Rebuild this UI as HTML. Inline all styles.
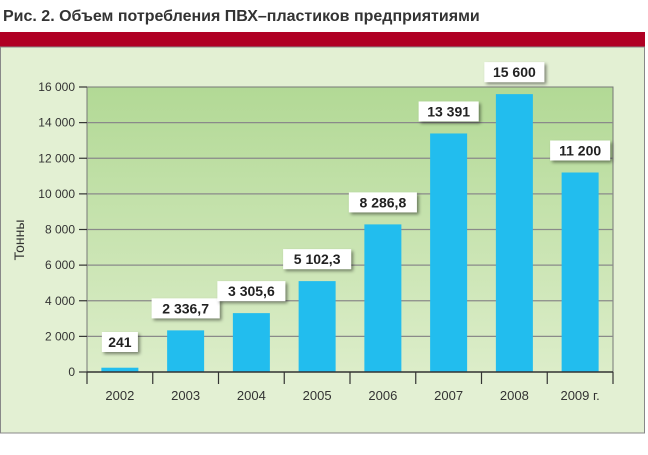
<!DOCTYPE html>
<html><head><meta charset="utf-8"><style>
body{margin:0;background:#fff;width:648px;height:450px;overflow:hidden;font-family:"Liberation Sans",sans-serif}
</style></head><body>
<svg width="648" height="450">
<defs>
<linearGradient id="pg" x1="0" y1="0" x2="0" y2="1"><stop offset="0" stop-color="#b2d995"/><stop offset="1" stop-color="#dcedc9"/></linearGradient>
<filter id="sh" x="-20%" y="-20%" width="150%" height="160%"><feDropShadow dx="2" dy="2" stdDeviation="1.5" flood-color="#000" flood-opacity="0.45"/></filter>
</defs>
<text x="3" y="21" font-size="16" font-weight="bold" fill="#333" font-family="Liberation Sans Narrow, Liberation Sans, sans-serif">Рис. 2. Объем потребления ПВХ–пластиков предприятиями</text>
<rect x="0" y="32" width="645" height="15" fill="#b00024"/>
<rect x="0.5" y="47" width="644" height="386" fill="#e3f0d3" stroke="#888"/>
<rect x="87" y="87" width="526" height="285" fill="url(#pg)" stroke="#777"/>
<g id="grid"></g><g id="bars"></g><g id="labels"></g><g id="axes"></g>
<text transform="translate(24,240) rotate(-90)" text-anchor="middle" font-size="14" fill="#333">Тонны</text>
</svg>
<script>
const categories=["2002","2003","2004","2005","2006","2007","2008","2009 г."];
const values=[241,2336.7,3305.6,5102.3,8286.8,13391,15600,11200];
const valueLabels=["241","2 336,7","3 305,6","5 102,3","8 286,8","13 391","15 600","11 200"];
const yTicks=[0,2000,4000,6000,8000,10000,12000,14000,16000];
const yTickLabels=["0","2 000","4 000","6 000","8 000","10 000","12 000","14 000","16 000"];
const NS="http://www.w3.org/2000/svg";
const x0=87,x1=613,yB=372,yT=87,yMax=16000;
const band=(x1-x0)/categories.length;
const y=v=>yB-(v/yMax)*(yB-yT);
function mk(t,a,p){const e=document.createElementNS(NS,t);for(const k in a)e.setAttribute(k,a[k]);p.appendChild(e);return e;}
const G=document.getElementById('grid'),B=document.getElementById('bars'),L=document.getElementById('labels'),A=document.getElementById('axes');
yTicks.forEach((v,i)=>{
 if(v>0&&v<yMax){const g=mk('line',{x1:x0,x2:x1,y1:y(v),y2:y(v),stroke:'#8a8a8a','stroke-width':1.2},G);
 
 }
 const t=mk('line',{x1:x0-8,x2:x0,y1:y(v),y2:y(v),stroke:'#333','stroke-width':1.2},A);
 
 
 const tx=mk('text',{x:x0-12,y:y(v)+4,'text-anchor':'end','font-size':12,fill:'#333'},A);tx.textContent=yTickLabels[i];
 
 
});
mk('line',{x1:x0,x2:x1,y1:yB,y2:yB,stroke:'#333','stroke-width':1.5},A);
for(let i=0;i<=categories.length;i++){const t=mk('line',{x1:x0+i*band,x2:x0+i*band,y1:yB,y2:yB+12,stroke:'#333','stroke-width':1.2},A);
 
 }
categories.forEach((c,i)=>{
 const cx=x0+band*(i+0.5),bw=37,top=y(values[i]);
 const r=mk('rect',{x:cx-bw/2,y:top,width:bw,height:Math.max(yB-top,1),fill:'#22bdee'},B);
 
 
 const tx=mk('text',{x:cx,y:400,'text-anchor':'middle','font-size':13,fill:'#333'},A);tx.textContent=c;
 
 
 const w=valueLabels[i].length*8+12,bb=Math.min(top,yB-8)-12;
 const box=mk('rect',{x:cx-w/2,y:bb-20,width:w,height:20,fill:'#fff',filter:'url(#sh)'},L);
 
 
 const lt=mk('text',{x:cx,y:bb-5,'text-anchor':'middle','font-size':14,'font-weight':'bold',fill:'#222','font-family':'Liberation Sans Narrow, Liberation Sans, sans-serif'},L);lt.textContent=valueLabels[i];
 
 
});
</script>
</body></html>
